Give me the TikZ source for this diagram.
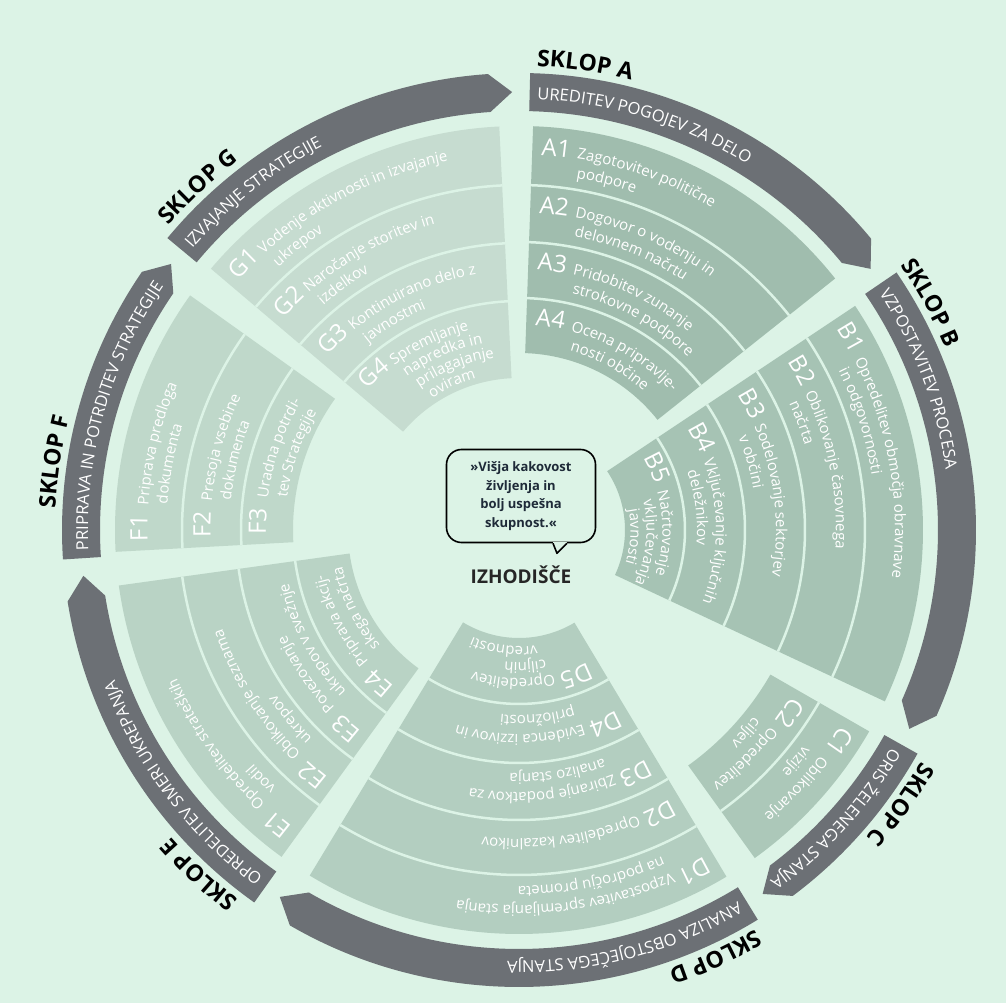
\documentclass[tikz,border=0pt]{standalone}
\usepackage{fontspec}
\setmainfont{Open Sans}
\usetikzlibrary{positioning,calc,decorations.text}

\definecolor{bgmint}{HTML}{DCF3E6}
\definecolor{bandgrey}{HTML}{6C7075}
\definecolor{segA}{HTML}{A0BDAE}
\definecolor{segB}{HTML}{A6C3B4}
\definecolor{segC}{HTML}{ACC8B9}
\definecolor{segD}{HTML}{B3CEC0}
\definecolor{segE}{HTML}{B9D3C5}
\definecolor{segF}{HTML}{BFD8CA}
\definecolor{segG}{HTML}{C6DCD0}
\definecolor{quoteink}{HTML}{1E2A38}

\newcommand\labfont{\fontsize{24}{24}\selectfont}
\newcommand\txtfont{\fontsize{15}{16}\selectfont}
\newcommand\bandfont{\fontsize{16.5}{16.5}\selectfont}
\newcommand\sklopfont{\fontsize{23}{23}\selectfont\bfseries}

\tikzset{
    band/.style={
        fill=bandgrey
    },
    sepline/.style={
        draw=bgmint,
        line width=2.5pt
    },
    quote/.style={
        draw=black,
        line width=1.6pt,
        rounded corners=15pt,
        minimum width=149pt,
        minimum height=93pt,
        inner sep=0pt,
        align=center,
        text=quoteink,
        font=\fontsize{13}{18.5}\selectfont\bfseries
    },
    title/.style={
        inner sep=0pt,
        text=black!85,
        font=\fontsize{19}{19}\selectfont\bfseries
    },
}

% text on a clockwise arc: [align] start, end, radius, font, colour, text
\newcommand\arctext[7][left]{%
    \edef\arcTmp{\noexpand\path[decorate,decoration={text along path,text align=#1,text color=#6,text={|\noexpand#5|#7}}] (#2:#4pt) arc[start angle=#2,end angle=#3,radius=#4pt];}%
    \arcTmp}
\newcommand\cellfill[5]{%
    \fill[#5] (#1:#3pt) arc[start angle=#1,end angle=#2,radius=#3pt]
        -- (#2:#4pt) arc[start angle=#2,end angle=#1,radius=#4pt] -- cycle;}
\newcommand\ringsep[3]{%
    \draw[sepline] (#1:#3pt) arc[start angle=#1,end angle=#2,radius=#3pt];}
\newcommand\bandarrow[2]{%
    \pgfmathsetmacro\bandSh{#2+3}%
    \fill[band] (#1:457pt) arc[start angle=#1,end angle=\bandSh,radius=457pt]
        -- (#2:438pt) -- (\bandSh:419pt) arc[start angle=\bandSh,end angle=#1,radius=419pt] -- cycle;}
% label and lines of one ring: angles, inner/outer radius, label, number of lines, lines
\newcommand\segcell[7]{%
    \pgfmathsetmacro\segPitch{#6<3 ? 19 : 16}%
    \pgfmathsetmacro\segBase{(#3+#4)/2-8.5+\segPitch*(#6-1)/2}%
    \pgfmathsetmacro\segLab{#1-9/\segBase*57.2958}%
    \pgfmathsetmacro\segEnd{#2-15}%
    \arctext{\segLab}{\segEnd}{\segBase}{\labfont}{white}{#5}%
    \foreach \lineTxt [count=\i] in #7 {%
        \pgfmathsetmacro\segR{\segBase-\segPitch*(\i-1)}%
        \pgfmathsetmacro\segAng{#1-45/\segR*57.2958}%
        \arctext{\segAng}{\segEnd}{\segR}{\txtfont}{white}{\lineTxt}}}

\begin{document}
\begin{tikzpicture}[x=1pt, y=1pt]
    % background
    \fill[bgmint] (-519,-473) rectangle (487,530);
    \useasboundingbox (-519,-473) rectangle (487,530);

    % sector A
    \cellfill{88.0}{38.5}{177}{404}{segA}
    \foreach \rr in {345,288,232} {\ringsep{88.0}{38.5}{\rr}}
    \foreach \cellLab/\rIn/\rOut/\cellN/\cellTxt in {
        A1/345/404/2/{Zagotovitev politične, podpore},
        A2/288/345/2/{Dogovor o vodenju in, delovnem načrtu},
        A3/232/288/2/{Pridobitev zunanje, strokovne podpore},
        A4/177/232/2/{Ocena pripravlje-, nosti občine}}
        {\segcell{88.0}{38.5}{\rIn}{\rOut}{\cellLab}{\cellN}{\cellTxt}}

    % sector B
    \cellfill{33.7}{-25.1}{106}{404}{segB}
    \foreach \rr in {346,286,226,166} {\ringsep{33.7}{-25.1}{\rr}}
    \foreach \cellLab/\rIn/\rOut/\cellN/\cellTxt in {
        B1/346/404/2/{Opredelitev območja obravnave, in odgovornosti},
        B2/286/346/2/{Oblikovanje časovnega, načrta},
        B3/226/286/2/{Sodelovanje sektorjev, v občini},
        B4/166/226/2/{Vključevanje ključnih, deležnikov},
        B5/106/166/3/{Načrtovanje, vključevanja, javnosti}}
        {\segcell{33.7}{-25.1}{\rIn}{\rOut}{\cellLab}{\cellN}{\cellTxt}}

    % sector C
    \cellfill{-29.9}{-54.3}{290}{404}{segC}
    \ringsep{-29.9}{-54.3}{346}
    \foreach \cellLab/\rIn/\rOut/\cellN/\cellTxt in {
        C1/346/404/2/{Oblikovanje, vizije},
        C2/290/346/2/{Opredelitev, ciljev}}
        {\segcell{-29.9}{-54.3}{\rIn}{\rOut}{\cellLab}{\cellN}{\cellTxt}}

    % sector D
    \cellfill{-59.1}{-121.2}{108}{404}{segD}
    \foreach \rr in {345,290,233,174} {\ringsep{-59.1}{-121.2}{\rr}}
    \foreach \cellLab/\rIn/\rOut/\cellN/\cellTxt in {
        D1/345/404/2/{Vzpostavitev spremljanja stanja, na področju prometa},
        D2/290/345/1/{Opredelitev kazalnikov},
        D3/233/290/2/{Zbiranje podatkov za, analizo stanja},
        D4/174/233/2/{Evidenca izzivov in, priložnosti},
        D5/108/174/3/{Opredelitev, ciljnih, vrednosti}}
        {\segcell{-59.1}{-121.2}{\rIn}{\rOut}{\cellLab}{\cellN}{\cellTxt}}

    % sector E
    \cellfill{-126.0}{-172.1}{171}{404}{segE}
    \foreach \rr in {340,283,226} {\ringsep{-126.0}{-172.1}{\rr}}
    \foreach \cellLab/\rIn/\rOut/\cellN/\cellTxt in {
        E1/340/404/2/{Opredelitev strateških, vodil},
        E2/283/340/2/{Oblikovanje seznama, ukrepov},
        E3/226/283/2/{Povezovanje, ukrepov v svežnje},
        E4/171/226/2/{Priprava akcij-, skega načrta}}
        {\segcell{-126.0}{-172.1}{\rIn}{\rOut}{\cellLab}{\cellN}{\cellTxt}}

    % sector F
    \cellfill{-176.9}{-215.5}{226}{404}{segF}
    \foreach \rr in {337,278} {\ringsep{-176.9}{-215.5}{\rr}}
    \foreach \cellLab/\rIn/\rOut/\cellN/\cellTxt in {
        F1/337/404/2/{Priprava predloga, dokumenta},
        F2/278/337/2/{Presoja vsebine, dokumenta},
        F3/226/278/2/{Uradna potrdi-, tev Strategije}}
        {\segcell{-176.9}{-215.5}{\rIn}{\rOut}{\cellLab}{\cellN}{\cellTxt}}

    % sector G
    \cellfill{139.7}{92.8}{152}{404}{segG}
    \foreach \rr in {345,287,229} {\ringsep{139.7}{92.8}{\rr}}
    \foreach \cellLab/\rIn/\rOut/\cellN/\cellTxt in {
        G1/345/404/2/{Vodenje aktivnosti in izvajanje, ukrepov},
        G2/287/345/2/{Naročanje storitev in, izdelkov},
        G3/229/287/2/{Kontinuirano delo z, javnostmi},
        G4/152/229/4/{Spremljanje, napredka in, prilagajanje, oviram}}
        {\segcell{139.7}{92.8}{\rIn}{\rOut}{\cellLab}{\cellN}{\cellTxt}}

    % arrows round the ring
    \foreach \bStart/\bTip/\lblC/\sk/\bTxt in {
        88.6/36.6/81.9/A/UREDITEV POGOJEV ZA DELO,
        34.3/-27.0/28.9/B/VZPOSTAVITEV PROCESA,
        -29.3/-56.2/-35.7/C/ORIS ŽELENEGA STANJA,
        -58.5/-123.1/-65.3/D/ANALIZA OBSTOJEČEGA STANJA,
        -125.4/-174.0/-132.9/E/OPREDELITEV SMERI UKREPANJA,
        -176.3/-217.4/-188.4/F/PRIPRAVA IN POTRDITEV STRATEGIJE,
        140.3/90.9/133.1/G/IZVAJANJE STRATEGIJE}
    {
        \bandarrow{\bStart}{\bTip}
        \pgfmathsetmacro\bs{\bStart-1.0}
        \pgfmathsetmacro\be{\bTip-8}
        \pgfmathsetmacro\ca{\lblC+20}
        \pgfmathsetmacro\cb{\lblC-20}
        \arctext{\bs}{\be}{431}{\bandfont}{white}{\bTxt}
        \arctext[center]{\ca}{\cb}{464}{\sklopfont}{black}{SKLOP \sk}
    }

    % centre
    \node[quote] (bubble) at (2,34) {»Višja kakovost\\življenja in\\bolj uspešna\\skupnost.«};
    \node[title, below=22pt of bubble] (start) {IZHODIŠČE};
    \coordinate (tailL) at ($(bubble.south)+(32,0)$);
    \coordinate (tailR) at ($(bubble.south)+(46,0)$);
    \coordinate (tailTip) at ($(bubble.south)+(36,-10)$);
    \draw[bgmint, line width=2.4pt] (tailL) -- (tailR);
    \draw[black, line width=1.6pt, line join=round] (tailL) -- (tailTip) -- (tailR);
\end{tikzpicture}
\end{document}
